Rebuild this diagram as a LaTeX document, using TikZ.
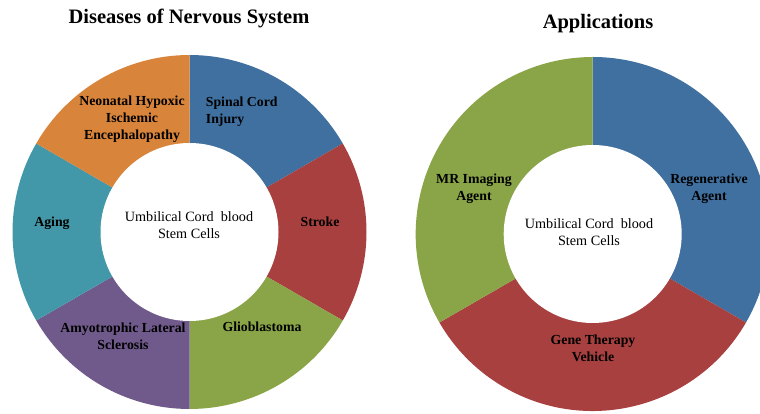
\documentclass[tikz,border=0pt]{standalone}
\usepackage{fontspec}
\setmainfont{Liberation Serif}
\usepackage{tikz}
\usetikzlibrary{calc}

\definecolor{segblue}{HTML}{4070A0}
\definecolor{segred}{HTML}{A84040}
\definecolor{seggreen}{HTML}{8AA448}
\definecolor{segpurple}{HTML}{705A8C}
\definecolor{segteal}{HTML}{4298A8}
\definecolor{segorange}{HTML}{D8843A}

\tikzset{
	ttl/.style={font=\fontsize{20.5}{24}\selectfont\bfseries, inner sep=0pt},
	seglabel/.style={font=\fontsize{13.8}{17}\selectfont\bfseries, align=center, inner sep=0pt},
	hub/.style={font=\fontsize{14.2}{17}\selectfont, align=center, inner sep=0pt}
}

\begin{document}
\begin{tikzpicture}[x=1pt,y=1pt]
		\useasboundingbox (0,0) rectangle (760,414);
		\clip (0,0) rectangle (760,414);
		\coordinate (L) at (189.5,182); %左の中心
		\coordinate (R) at (592.7,180); %右の中心
		% left ring
		\foreach \a/\b/\c in {90/30/segblue, 30/-30/segred, -30/-90/seggreen, -90/-150/segpurple, -150/-210/segteal, 150/90/segorange}
			\fill[\c] (L) -- ++(\a:177) arc[start angle=\a, end angle=\b, radius=177] -- cycle;
		\fill[white] (L) circle (89);
		% right ring
		\foreach \a/\b/\c in {90/-30/segblue, -30/-150/segred, -150/-270/seggreen}
			\fill[\c] (R) -- ++(\a:177) arc[start angle=\a, end angle=\b, radius=177] -- cycle;
		\fill[white] (R) circle (89);
		% titles
		\node[ttl] (diseases) at (189,395) {Diseases of Nervous System};
		\node[ttl] (applications) at (598,390) {Applications};
		% left labels
		\node[seglabel] (neonatal) at (132,295) {Neonatal Hypoxic\\Ischemic\\Encephalopathy};
		\node[seglabel, align=left, anchor=west] (spinal) at (205.7,302) {Spinal Cord\\Injury};
		\node[seglabel] (stroke) at (320,192) {Stroke};
		\node[seglabel] (glio) at (262,87) {Glioblastoma};
		\node[seglabel] (als) at (123,77.5) {Amyotrophic Lateral\\Sclerosis};
		\node[seglabel] (aging) at (52,191) {Aging};
		\node[hub] (ucbL) at (189,188.5) {Umbilical Cord\ \ blood\\Stem Cells};
		% right labels
		\node[seglabel] (regen) at (709,225.5) {Regenerative\\Agent};
		\node[seglabel] (gene) at (593,65.7) {Gene Therapy\\Vehicle};
		\node[seglabel] (mri) at (474,225.5) {MR Imaging\\Agent};
		\node[hub] (ucbR) at (589,181.7) {Umbilical Cord\ \ blood\\Stem Cells};
	\end{tikzpicture}
\end{document}
